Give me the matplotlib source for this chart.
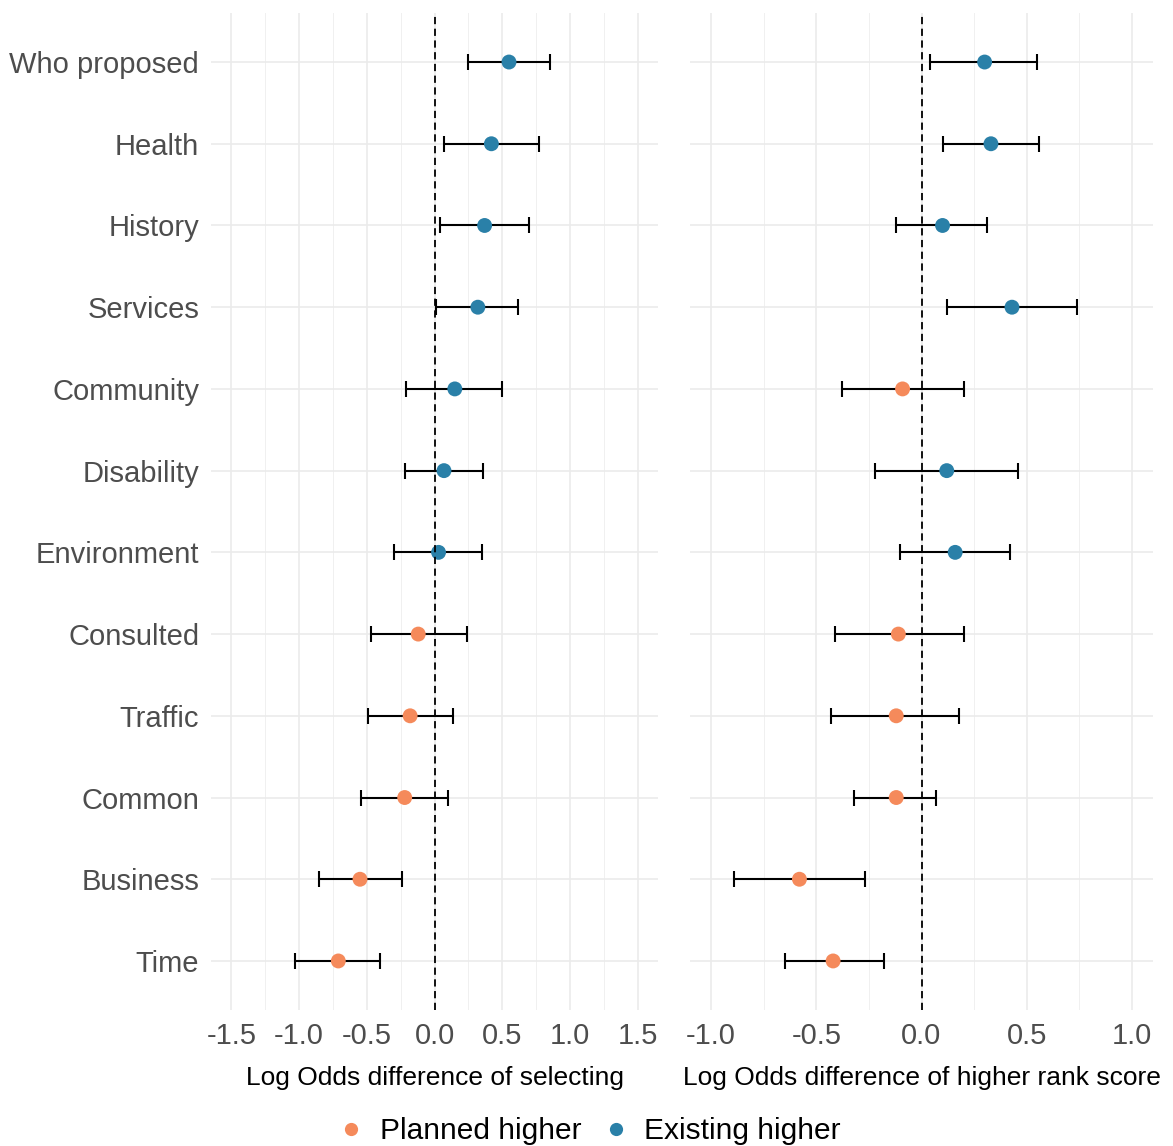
import matplotlib
matplotlib.use("Agg")
import matplotlib.pyplot as plt
from matplotlib.lines import Line2D
import numpy as np

plt.rcParams["font.family"] = ["Liberation Sans", "DejaVu Sans"]

items = ["Who proposed", "Health", "History", "Services", "Community", "Disability",
         "Environment", "Consulted", "Traffic", "Common", "Business", "Time"]

# log odds difference of selecting
sel_est = [0.55, 0.42, 0.37, 0.32, 0.15, 0.07, 0.03, -0.12, -0.18, -0.22, -0.55, -0.71]
sel_lo = [0.25, 0.07, 0.04, 0.01, -0.21, -0.22, -0.30, -0.47, -0.49, -0.54, -0.85, -1.03]
sel_hi = [0.85, 0.77, 0.70, 0.62, 0.50, 0.36, 0.35, 0.24, 0.14, 0.10, -0.24, -0.40]

# log odds difference of higher rank score
rank_est = [0.30, 0.33, 0.10, 0.43, -0.09, 0.12, 0.16, -0.11, -0.12, -0.12, -0.58, -0.42]
rank_lo = [0.04, 0.10, -0.12, 0.12, -0.38, -0.22, -0.10, -0.41, -0.43, -0.32, -0.89, -0.65]
rank_hi = [0.55, 0.56, 0.31, 0.74, 0.20, 0.46, 0.42, 0.20, 0.18, 0.07, -0.27, -0.18]

col_planned = "#F58A5B"
col_existing = "#2A80A8"

W, H = 1173, 1146
fig = plt.figure(figsize=(W / 100, H / 100), dpi=100)


def panel(x0, x1, est, lo, hi, lim, major, minor, xlabel, show_y):
    ax = fig.add_axes([x0 / W, (H - 1010) / H, (x1 - x0) / W, 997 / H])
    est = np.array(est)
    y = np.arange(len(items))
    for v in major:
        ax.axvline(v, color="#EBEBEB", lw=1.2, zorder=0)
    for v in minor:
        ax.axvline(v, color="#F0F0F0", lw=0.7, zorder=0)
    for yy in y:
        ax.axhline(yy, color="#EBEBEB", lw=1.2, zorder=0)
    ax.errorbar(est, y, xerr=[est - np.array(lo), np.array(hi) - est], fmt="none",
                ecolor="black", elinewidth=1.5, capsize=5.5, capthick=1.5, zorder=2)
    cols = [col_existing if v > 0 else col_planned for v in est]
    ax.scatter(est, y, s=115, c=cols, linewidths=0, zorder=3)
    ax.axvline(0, color="black", lw=1.3, ls=(0, (4, 2.5)), zorder=4)
    ax.set_xlim(-lim, lim)
    ax.set_ylim(len(items) - 0.4, -0.6)
    ax.set_xticks(major)
    ax.set_xticklabels([f"{v:.1f}" for v in major])
    ax.set_yticks(y)
    if show_y:
        ax.set_yticklabels(items)
    else:
        ax.set_yticklabels([])
    ax.tick_params(length=0, labelsize=21, labelcolor="#4D4D4D", pad=8.5)
    for s in ax.spines.values():
        s.set_visible(False)
    ax.set_xlabel(xlabel, fontsize=19, labelpad=12)
    return ax


panel(211, 658, sel_est, sel_lo, sel_hi, 1.65,
      [-1.5, -1.0, -0.5, 0.0, 0.5, 1.0, 1.5],
      [-1.25, -0.75, -0.25, 0.25, 0.75, 1.25],
      "Log Odds difference of selecting", True)
panel(690, 1153, rank_est, rank_lo, rank_hi, 1.1,
      [-1.0, -0.5, 0.0, 0.5, 1.0],
      [-0.75, -0.25, 0.25, 0.75],
      "Log Odds difference of higher rank score", False)

handles = [Line2D([], [], ls="none", marker="o", ms=9.5, mec="none", color=col_planned),
           Line2D([], [], ls="none", marker="o", ms=9.5, mec="none", color=col_existing)]
fig.legend(handles, ["Planned higher", "Existing higher"], ncol=2, frameon=False,
           loc="center", bbox_to_anchor=(587 / W, 1 - 1131 / H), fontsize=21.5,
           handletextpad=0.35, columnspacing=0.55, handlelength=1.2)

fig.savefig("out.png", dpi=100)
